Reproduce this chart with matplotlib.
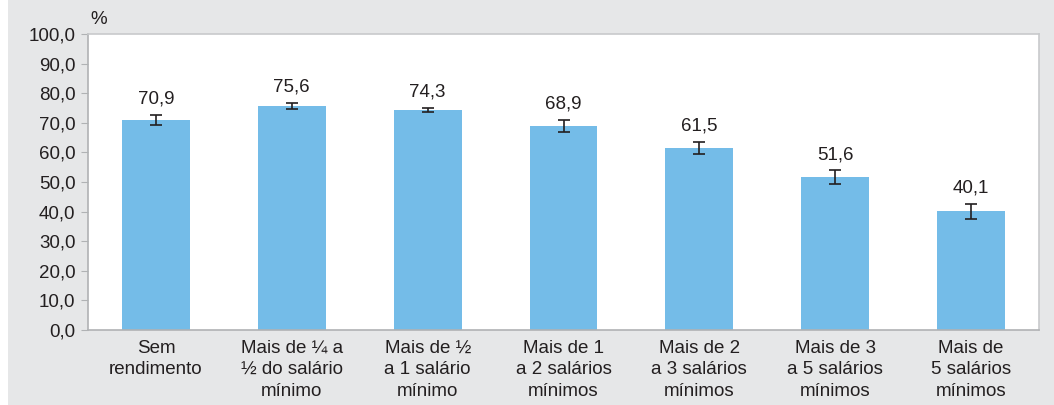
import numpy as np
import matplotlib.pyplot as plt
from matplotlib.patches import Rectangle

plt.rcParams['font.family'] = ['Liberation Sans', 'DejaVu Sans']

categories = [
    "Sem\nrendimento",
    "Mais de ¼ a\n½ do salário\nmínimo",
    "Mais de ½\na 1 salário\nmínimo",
    "Mais de 1\na 2 salários\nmínimos",
    "Mais de 2\na 3 salários\nmínimos",
    "Mais de 3\na 5 salários\nmínimos",
    "Mais de\n5 salários\nmínimos",
]
values = [70.9, 75.6, 74.3, 68.9, 61.5, 51.6, 40.1]
errors = [1.6, 1.0, 0.8, 2.0, 2.0, 2.3, 2.5]
labels = ["70,9", "75,6", "74,3", "68,9", "61,5", "51,6", "40,1"]
yticks = np.arange(0, 101, 10)

bg = "#e6e7e8"
bar_color = "#74bce8"
text_color = "#231f20"
fs = 13.5

fig = plt.figure(figsize=(10.54, 4.05), dpi=100, facecolor="white")
fig.patches.append(Rectangle((8 / 1054, 0), 1, 1,
                             transform=fig.transFigure, facecolor=bg,
                             edgecolor="none", zorder=-10))
ax = fig.add_axes([88 / 1054, 1 - 330 / 405, 951 / 1054, 296 / 405])
ax.set_facecolor("white")

x = np.arange(len(values))
ax.bar(x, values, width=0.5, color=bar_color, zorder=2)
ax.errorbar(x, values, yerr=errors, fmt="none", ecolor=text_color,
            elinewidth=1.2, capsize=4, capthick=1.2, zorder=3)
for xi, v, e, lab in zip(x, values, errors, labels):
    ax.text(xi, v + e + 2.5, lab, ha="center", va="bottom",
            fontsize=fs, color=text_color)

ax.set_xlim(-0.5, len(values) - 0.5)
ax.set_ylim(0, 100)
ax.set_yticks(yticks)
ax.set_yticklabels([f"{t:.1f}".replace(".", ",") for t in yticks],
                   fontsize=fs, color=text_color)
ax.set_xticks(x)
ax.set_xticklabels(categories, fontsize=fs, color=text_color,
                   linespacing=1.35)
ax.tick_params(axis="x", length=0, pad=7)
ax.tick_params(axis="y", length=5, color="#b0b2b4", pad=4)

for side in ["top", "right"]:
    ax.spines[side].set_color("#c8cacc")
for side in ["left", "bottom"]:
    ax.spines[side].set_color("#b0b2b4")
for s in ax.spines.values():
    s.set_linewidth(1.2)

fig.text(90 / 1054, 1 - 20 / 405, "%", fontsize=fs, color=text_color,
         ha="left", va="center")

fig.savefig("out.png", dpi=100, facecolor=fig.get_facecolor())
